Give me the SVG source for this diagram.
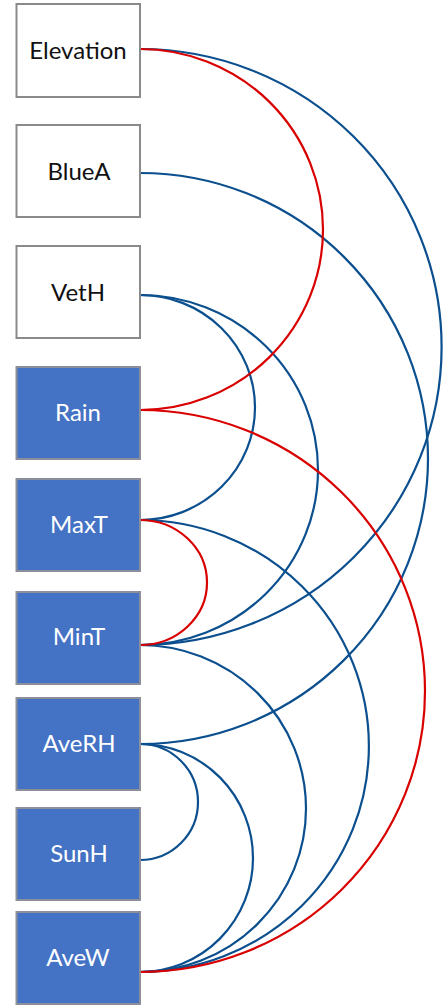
<svg xmlns="http://www.w3.org/2000/svg" width="447" height="1008" viewBox="0 0 447 1008">
<style>
.w rect{fill:#ffffff;stroke:#8a8a8a;stroke-width:2}
.b rect{fill:#4472c4;stroke:#8c8f99;stroke-width:2}
text{font-family:Lato,"Open Sans","Liberation Sans",sans-serif;font-size:24px;text-anchor:middle}
.w text{fill:#111111}
.b text{fill:#ffffff}
#connectors path{fill:none;stroke-width:2.2}
#connectors .bl{stroke:#0b4f8e}
#connectors .rd{stroke:#d90000}
</style>
<rect width="447" height="1008" fill="#ffffff"/>
<g id="connectors">
<path class="bl" d="M140 49 A301.7 298 0 0 1 140 645"/>
<path class="bl" d="M140 173 A288 285.5 0 0 1 140 744"/>
<path class="bl" d="M140 295 A115 112.5 0 0 1 140 520"/>
<path class="bl" d="M140 295 A178 175 0 0 1 140 645"/>
<path class="bl" d="M140 520 A229 226 0 0 1 140 972"/>
<path class="bl" d="M140 645 A166 163.5 0 0 1 140 972"/>
<path class="bl" d="M140 744 A58 58 0 0 1 140 860"/>
<path class="bl" d="M140 744 A113 114 0 0 1 140 972"/>
<path class="rd" d="M140 49 A183 180.5 0 0 1 140 410"/>
<path class="rd" d="M140 410 A285 281 0 0 1 140 972"/>
<path class="rd" d="M140 520 A67 62.5 0 0 1 140 645"/>
</g>
<g id="elevation" class="w"><rect x="16.5" y="4" width="123.5" height="93"/><text x="78" y="59">Elevation</text></g>
<g id="bluea" class="w"><rect x="16.5" y="125" width="123.5" height="92"/><text x="79" y="180">BlueA</text></g>
<g id="veth" class="w"><rect x="16.5" y="246" width="123.5" height="92"/><text x="78" y="301">VetH</text></g>
<g id="rain" class="b"><rect x="16.5" y="367" width="123.5" height="92"/><text x="78" y="421">Rain</text></g>
<g id="maxt" class="b"><rect x="16.5" y="479" width="123.5" height="92"/><text x="79" y="533">MaxT</text></g>
<g id="mint" class="b"><rect x="16.5" y="592" width="123.5" height="92"/><text x="79" y="645">MinT</text></g>
<g id="averh" class="b"><rect x="16.5" y="698" width="123.5" height="92"/><text x="79" y="752">AveRH</text></g>
<g id="sunh" class="b"><rect x="16.5" y="808" width="123.5" height="92"/><text x="79" y="862">SunH</text></g>
<g id="avew" class="b"><rect x="16.5" y="912" width="123.5" height="92"/><text x="78" y="966">AveW</text></g>
</svg>
